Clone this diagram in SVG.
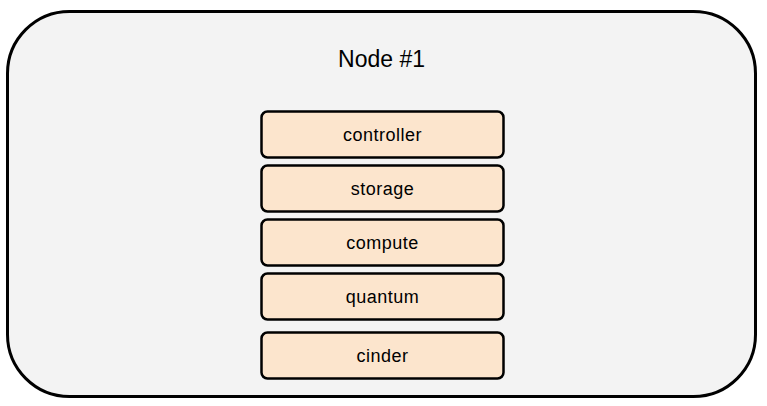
<svg xmlns="http://www.w3.org/2000/svg" width="767" height="406" viewBox="0 0 767 406">
<style>
.box{fill:#fce5cd;stroke:#000;stroke-width:2.5}
.t{font-family:"Liberation Sans",Arial,sans-serif;font-size:18px;letter-spacing:0.5px;fill:#000;text-anchor:middle}
</style>
<g id="node1">
<rect x="7.5" y="11.5" width="748" height="385" rx="62" ry="62" fill="#f3f3f3" stroke="#000" stroke-width="3"/>
<text x="381.5" y="66.5" class="t" style="font-size:23px;letter-spacing:0">Node #1</text>
</g>
<g id="controller"><rect class="box" x="261.5" y="111.5" width="242" height="46" rx="6"/><text class="t" x="382.5" y="141">controller</text></g>
<g id="storage"><rect class="box" x="261.5" y="165.5" width="242" height="46" rx="6"/><text class="t" x="382.5" y="195">storage</text></g>
<g id="compute"><rect class="box" x="261.5" y="219.5" width="242" height="46" rx="6"/><text class="t" x="382.5" y="249">compute</text></g>
<g id="quantum"><rect class="box" x="261.5" y="273.5" width="242" height="46" rx="6"/><text class="t" x="382.5" y="303">quantum</text></g>
<g id="cinder"><rect class="box" x="261.5" y="332.5" width="242" height="46" rx="6"/><text class="t" x="382.5" y="362">cinder</text></g>
<g id="connectors"></g>
</svg>
